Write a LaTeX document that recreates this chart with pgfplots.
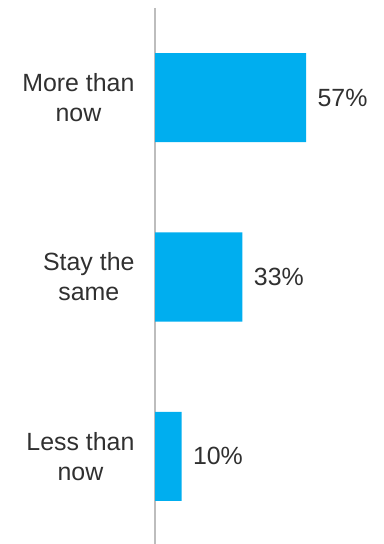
\documentclass[border=0pt]{standalone}
\usepackage{pgfplots}
\pgfplotsset{compat=1.18}
\usepackage{fontspec}
\setmainfont{Liberation Sans}
\definecolor{barblue}{HTML}{00AEEF}
\definecolor{txt}{HTML}{303030}
\definecolor{axisgray}{HTML}{BDBDBD}
\begin{document}
\begin{tikzpicture}[x=1bp,y=1bp]
\useasboundingbox (0,0) rectangle (383,544);
\begin{axis}[
  at={(155bp,-2bp)}, anchor=south west,
  scale only axis, width=212bp, height=538bp,
  xbar, xmin=0, xmax=80,
  ymin=-0.5, ymax=2.5, y dir=reverse,
  bar width=89bp,
  ytick={0,1,2},
  yticklabels={More than\\now, Stay the\\same, Less than\\now},
  yticklabel style={align=center, font=\fontsize{25}{30}\selectfont, text=txt, xshift=-17bp},
  axis x line=none,
  axis y line=left,
  y axis line style={-, draw=axisgray, line width=1.2bp},
  major tick length=0pt,
  /pgf/number format/assume math mode=true,
  nodes near coords={\pgfmathprintnumber{\pgfplotspointmeta}\%},
  nodes near coords align=horizontal,
  every node near coord/.append style={font=\fontsize{25}{28}\selectfont, text=txt, xshift=8bp},
  clip=false,
]
\addplot[fill=barblue, draw=none] coordinates {(57,0) (33,1) (10,2)};
\end{axis}
\end{tikzpicture}
\end{document}
